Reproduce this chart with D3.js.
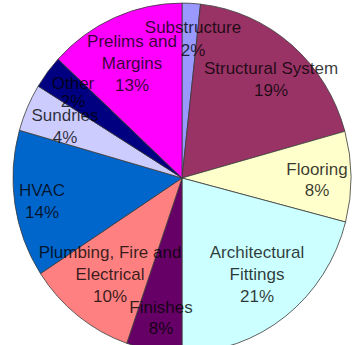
<!DOCTYPE html>
<html>
<head>
<meta charset="utf-8">
<script src="https://cdn.jsdelivr.net/npm/d3@7"></script>
<style>
  body { margin: 0; background: #fff; }
  svg { display: block; }
  text { font-family: "Liberation Sans", Arial, sans-serif; font-size: 17px; fill: #000; fill-opacity: 0.78; }
</style>
</head>
<body>
<div id="chart"></div>
<script>
// slices clockwise from 12 o'clock (shares)
let categories = ["Substructure", "Structural System", "Flooring", "Architectural Fittings",
    "Finishes", "Plumbing, Fire and Electrical", "HVAC", "Sundries", "Other", "Prelims and Margins"];
let shares = [1.75, 18.95, 8.35, 20.95, 5.3, 10.5, 13.6, 4.4, 3.1, 13.1];
let percentLabels = ["2%", "19%", "8%", "21%", "8%", "10%", "14%", "4%", "2%", "13%"];
let colors = ["#9999ff", "#993366", "#ffffcc", "#ccffff", "#660066",
    "#ff8080", "#0066cc", "#ccccff", "#000080", "#ff00ff"];

// label text lines
let labelLines = [
    ["Substructure"], ["Structural System"], ["Flooring"], ["Architectural", "Fittings"],
    ["Finishes"], ["Plumbing, Fire and", "Electrical"], ["HVAC"], ["Sundries"], ["Other"],
    ["Prelims and", "Margins"]
];

// where the label blocks sit (first line centre) and line step
let labelPos = [
    [193, 27, 23], [271, 68, 22], [317, 169, 21], [257, 252, 22], [161, 307, 21],
    [110, 252, 22], [42, 190, 22], [65, 115, 22], [73, 83, 18], [132, 41, 22]
];

let width = 352, height = 345;
let cx = 182, cy = 178, r = 169, squash = 1.035;

let svg = d3.select("#chart").append("svg")
    .attr("width", width)
    .attr("height", height);

let pie = d3.pie().sort(null).value(d => d)(shares);
let arc = d3.arc().innerRadius(0).outerRadius(r);

let g = svg.append("g")
    .attr("transform", "translate(" + cx + "," + cy + ") scale(1," + squash + ")");

g.selectAll("path")
    .data(pie)
    .enter().append("path")
    .attr("d", arc)
    .attr("fill", (d, i) => colors[i])
    .attr("stroke", "#3a3a3a")
    .attr("stroke-width", 0.8)
    .attr("vector-effect", "non-scaling-stroke");

// labels: Other first so Sundries overlaps it like the picture
let order = [8, 0, 1, 2, 3, 4, 5, 6, 7, 9];
let labels = svg.append("g");
order.forEach(function (i) {
    let p = labelPos[i];
    let lines = labelLines[i].concat([percentLabels[i]]);
    lines.forEach(function (t, k) {
        labels.append("text")
            .attr("x", p[0])
            .attr("y", p[1] + k * p[2])
            .attr("dy", "0.36em")
            .attr("text-anchor", "middle")
            .text(t);
    });
});
</script>
</body>
</html>
